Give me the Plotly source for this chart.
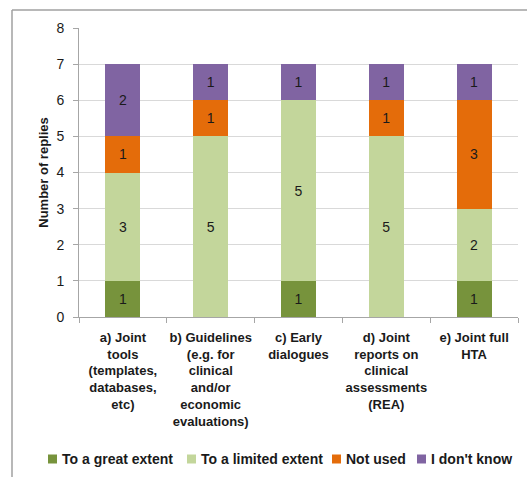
import plotly.graph_objects as go

categories = [
    "a) Joint<br>tools<br>(templates,<br>databases,<br>etc)",
    "b) Guidelines<br>(e.g. for<br>clinical<br>and/or<br>economic<br>evaluations)",
    "c) Early<br>dialogues",
    "d) Joint<br>reports on<br>clinical<br>assessments<br>(REA)",
    "e) Joint full<br>HTA",
]
series_names = ["To a great extent", "To a limited extent", "Not used", "I don't know"]
great_extent = [1, 0, 1, 0, 1]
limited_extent = [3, 5, 5, 5, 2]
not_used = [1, 1, 0, 1, 3]
dont_know = [2, 1, 1, 1, 1]
colors = ["#77933C", "#C3D69B", "#E46C0A", "#8064A2"]

FONT = "Liberation Sans"
TXT = "#1a1a1a"
fig = go.Figure()
for name, vals, col in zip(series_names, [great_extent, limited_extent, not_used, dont_know], colors):
    fig.add_trace(go.Bar(
        x=categories, y=vals, name=name,
        marker=dict(color=col, line=dict(width=0)),
        text=[str(v) if v else "" for v in vals],
        textposition="inside", insidetextanchor="middle",
        textfont=dict(family=FONT, size=14, color=TXT),
        showlegend=False,
    ))

# legend: coloured squares plus bold text (pixel layout helpers)
PW, PH, L, B0 = 439, 289, 79, 317
def px_x(p): return (p - L) / PW
def px_y(p): return (B0 - p) / PH

legend_x_px = [48, 187, 332, 417]
LYC = 459
shapes = [
    dict(type="line", xref="paper", yref="paper", x0=px_x(12), x1=px_x(540), y0=px_y(10), y1=px_y(10),
         line=dict(color="#a0a0a0", width=1.5)),
    dict(type="line", xref="paper", yref="paper", x0=px_x(12), x1=px_x(12), y0=px_y(10), y1=px_y(490),
         line=dict(color="#a0a0a0", width=1.5)),
]
for name, col, px in zip(series_names, colors, legend_x_px):
    shapes.append(dict(type="rect", xref="paper", yref="paper",
                       x0=px_x(px), x1=px_x(px + 9), y0=px_y(LYC - 4.5), y1=px_y(LYC + 4.5),
                       fillcolor=col, line=dict(width=0)))
    fig.add_annotation(
        xref="paper", yref="paper", x=px_x(px + 12), y=px_y(LYC),
        xanchor="left", yanchor="middle", showarrow=False,
        text=f"<b>{name}</b>", font=dict(family=FONT, size=14, color=TXT),
    )

fig.update_layout(
    barmode="stack", bargap=0.6,
    width=527, height=477,
    margin=dict(l=79, r=9, t=28, b=160, autoexpand=False),
    paper_bgcolor="white", plot_bgcolor="white",
    font=dict(family=FONT, size=13, color=TXT),
    shapes=shapes,
)
fig.update_xaxes(
    showline=True, linecolor="#a6a6a6", linewidth=1,
    ticks="outside", tickson="boundaries", ticklen=5, tickcolor="#a6a6a6",
    tickfont=dict(family=FONT, size=13, color=TXT, weight="bold"),
    tickangle=0, ticklabelstandoff=8,
)
fig.update_yaxes(
    range=[0, 8], dtick=1, showgrid=True, gridcolor="#d9d9d9", gridwidth=1,
    showline=True, linecolor="#a6a6a6", linewidth=1, zeroline=False,
    ticks="outside", ticklen=5, tickcolor="#a6a6a6",
    tickfont=dict(family=FONT, size=14, color=TXT),
    ticklabelstandoff=6,
    title=dict(text="<b>Number of replies</b>", font=dict(family=FONT, size=13, color=TXT), standoff=4),
)
fig.write_html("out.html", post_script="document.body.style.margin='0';",
               config={"displayModeBar": False})
